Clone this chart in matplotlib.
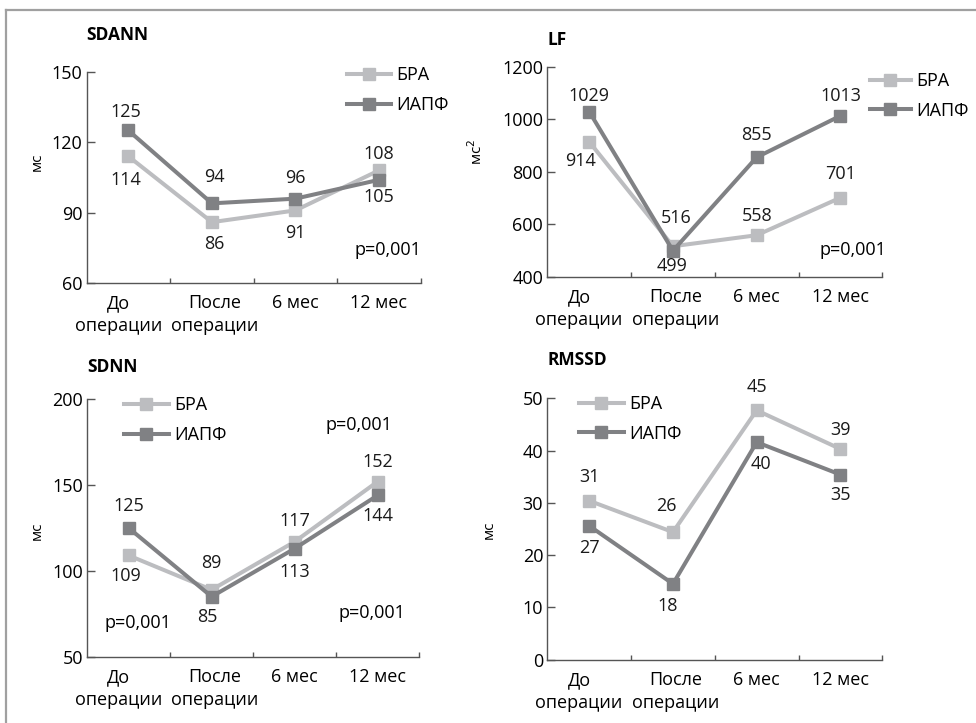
import matplotlib.pyplot as plt
from matplotlib.lines import Line2D
from matplotlib.ticker import FixedLocator

plt.rcParams['font.family'] = ['Open Sans', 'DejaVu Sans']

# категории по оси X
categories = ['До\nоперации', 'После\nоперации', '6 мес', '12 мес']
series_names = ['БРА', 'ИАПФ']

# SDANN
sdann_bra = [114, 86, 91, 108]
sdann_ace = [125, 94, 96, 104]
sdann_bra_lbl = ['114', '86', '91', '108']
sdann_ace_lbl = ['125', '94', '96', '105']

# LF
lf_bra = [914, 516, 558, 701]
lf_ace = [1029, 499, 855, 1013]
lf_bra_lbl = ['914', '516', '558', '701']
lf_ace_lbl = ['1029', '499', '855', '1013']

# SDNN
sdnn_bra = [109, 89, 117, 152]
sdnn_ace = [125, 85, 113, 144]
sdnn_bra_lbl = ['109', '89', '117', '152']
sdnn_ace_lbl = ['125', '85', '113', '144']

# RMSSD (маркеры на рисунке стоят не точно по подписям)
rmssd_bra = [30.4, 24.4, 47.7, 40.3]
rmssd_ace = [25.6, 14.5, 41.6, 35.4]
rmssd_bra_lbl = ['31', '26', '45', '39']
rmssd_ace_lbl = ['27', '18', '40', '35']

LIGHT = '#bcbdc0'
DARK = '#808184'
AXC = '#555555'
FS = 13

fig = plt.figure(figsize=(9.76, 7.23), dpi=100)

# рамка вокруг рисунка
fig.add_artist(Line2D([6 / 976, 6 / 976], [0, 1 - 10 / 723], transform=fig.transFigure,
                      color='#a0a0a0', lw=1.6))
fig.add_artist(Line2D([6 / 976, 1], [1 - 10 / 723, 1 - 10 / 723], transform=fig.transFigure,
                      color='#a0a0a0', lw=1.6))


def panel(rect, title, title_y, ylim, yticks, bra, ace, bra_lbl, ace_lbl, bra_pos, ace_pos,
          ylabel, ylabel_xy, legend_anchor, pvals, hlen=2.45):
    ax = fig.add_axes(rect)
    x = range(len(categories))
    ax.plot(x, bra, color=LIGHT, lw=2.9, marker='s', ms=8.5, label=series_names[0], zorder=3)
    ax.plot(x, ace, color=DARK, lw=2.9, marker='s', ms=8.5, label=series_names[1], zorder=3)

    for xi, yi, t, p in zip(x, bra, bra_lbl, bra_pos):
        ax.annotate(t, (xi, yi), xytext=p, textcoords='offset points',
                    ha='center', va='center', fontsize=FS, color='#1a1a1a')
    for xi, yi, t, p in zip(x, ace, ace_lbl, ace_pos):
        ax.annotate(t, (xi, yi), xytext=p, textcoords='offset points',
                    ha='center', va='center', fontsize=FS, color='#1a1a1a')

    ax.set_xlim(-0.5, 3.5)
    ax.set_ylim(*ylim)
    ax.set_yticks(yticks)
    # подписи категорий чуть сдвинуты, как в оригинале
    ax.set_xticks([-0.12, 1.035, 2, 3])
    ax.set_xticklabels(categories, fontsize=FS, linespacing=1.35)
    ax.xaxis.set_minor_locator(FixedLocator([0.5, 1.5, 2.5, 3.5]))
    ax.tick_params(axis='x', which='major', length=0, pad=8)
    ax.tick_params(axis='x', which='minor', direction='in', length=3.6, width=1, color=AXC)
    ax.tick_params(axis='y', direction='in', length=5.8, width=1, color=AXC,
                   labelsize=FS, pad=3)
    for s in ['top', 'right']:
        ax.spines[s].set_visible(False)
    for s in ['left', 'bottom']:
        ax.spines[s].set_color(AXC)
        ax.spines[s].set_linewidth(1)

    ax.text(0, title_y, title, transform=ax.transAxes, fontsize=12.5, fontweight='bold',
            va='center', ha='left')
    fig.text(ylabel_xy[0], rect[1] + rect[3] * ylabel_xy[1], ylabel, rotation=90,
             fontsize=11, ha='center', va='center')

    leg = ax.legend(loc='upper left', bbox_to_anchor=legend_anchor, frameon=False,
                    fontsize=FS, handlelength=hlen, handletextpad=0.3,
                    labelspacing=0.65, borderaxespad=0)
    for h in leg.legend_handles:
        h.set_markersize(8.5)

    for px, py, txt in pvals:
        ax.text(px, py, txt, fontsize=FS, ha='center', va='center',
                transform=ax.transAxes)
    return ax


up = (0, 15)
dn = (0, -15)

panel([0.0888, 0.6082, 0.3422, 0.2926], 'SDANN', 1.175, (60, 150), [60, 90, 120, 150],
      sdann_bra, sdann_ace, sdann_bra_lbl, sdann_ace_lbl,
      [(-2, -17), (2, -16), (0, -16), (0, 12)], [(-2, 13), (2, 19), up, (0, -12)],
      'мс', (37 / 976, 0.573), (0.758, 1.06), [(0.902, 0.157, 'p=0,001')])

panel([0.5608, 0.6173, 0.3432, 0.2904], 'LF', 1.127, (400, 1200), [400, 600, 800, 1000, 1200],
      lf_bra, lf_ace, lf_bra_lbl, lf_ace_lbl,
      [(-6, -14), (2, 20), (0, 14), (0, 17)], [(0, 11), (-1, -11), (0, 16), (0, 14)],
      'мс$^2$', (477 / 976, 0.594), (0.942, 1.01), [(0.912, 0.127, 'p=0,001')], hlen=2.25)

panel([0.0894, 0.0917, 0.3399, 0.3560], 'SDNN', 1.125, (50, 200), [50, 100, 150, 200],
      sdnn_bra, sdnn_ace, sdnn_bra_lbl, sdnn_ace_lbl,
      [(-2, -15), (0, 19), (0, 15), (0, 14)], [(0, 16), (-3, -15), (0, -17), (0, -15)],
      'мс', (37 / 976, 0.49), (0.09, 1.04), [(0.153, 0.13, 'p=0,001'),
                                             (0.819, 0.90, 'p=0,001'),
                                             (0.858, 0.17, 'p=0,001')])

panel([0.5608, 0.0876, 0.3432, 0.3615], 'RMSSD', 1.148, (0, 50), [0, 10, 20, 30, 40, 50],
      rmssd_bra, rmssd_ace, rmssd_bra_lbl, rmssd_ace_lbl,
      [(0, 17), (-5, 19), (0, 17), (0, 14)], [(0, -16), (-4, -16), (3, -16), (0, -15)],
      'мс', (489 / 976, 0.496), (0.074, 1.04), [])

fig.savefig('out.png', dpi=100)
